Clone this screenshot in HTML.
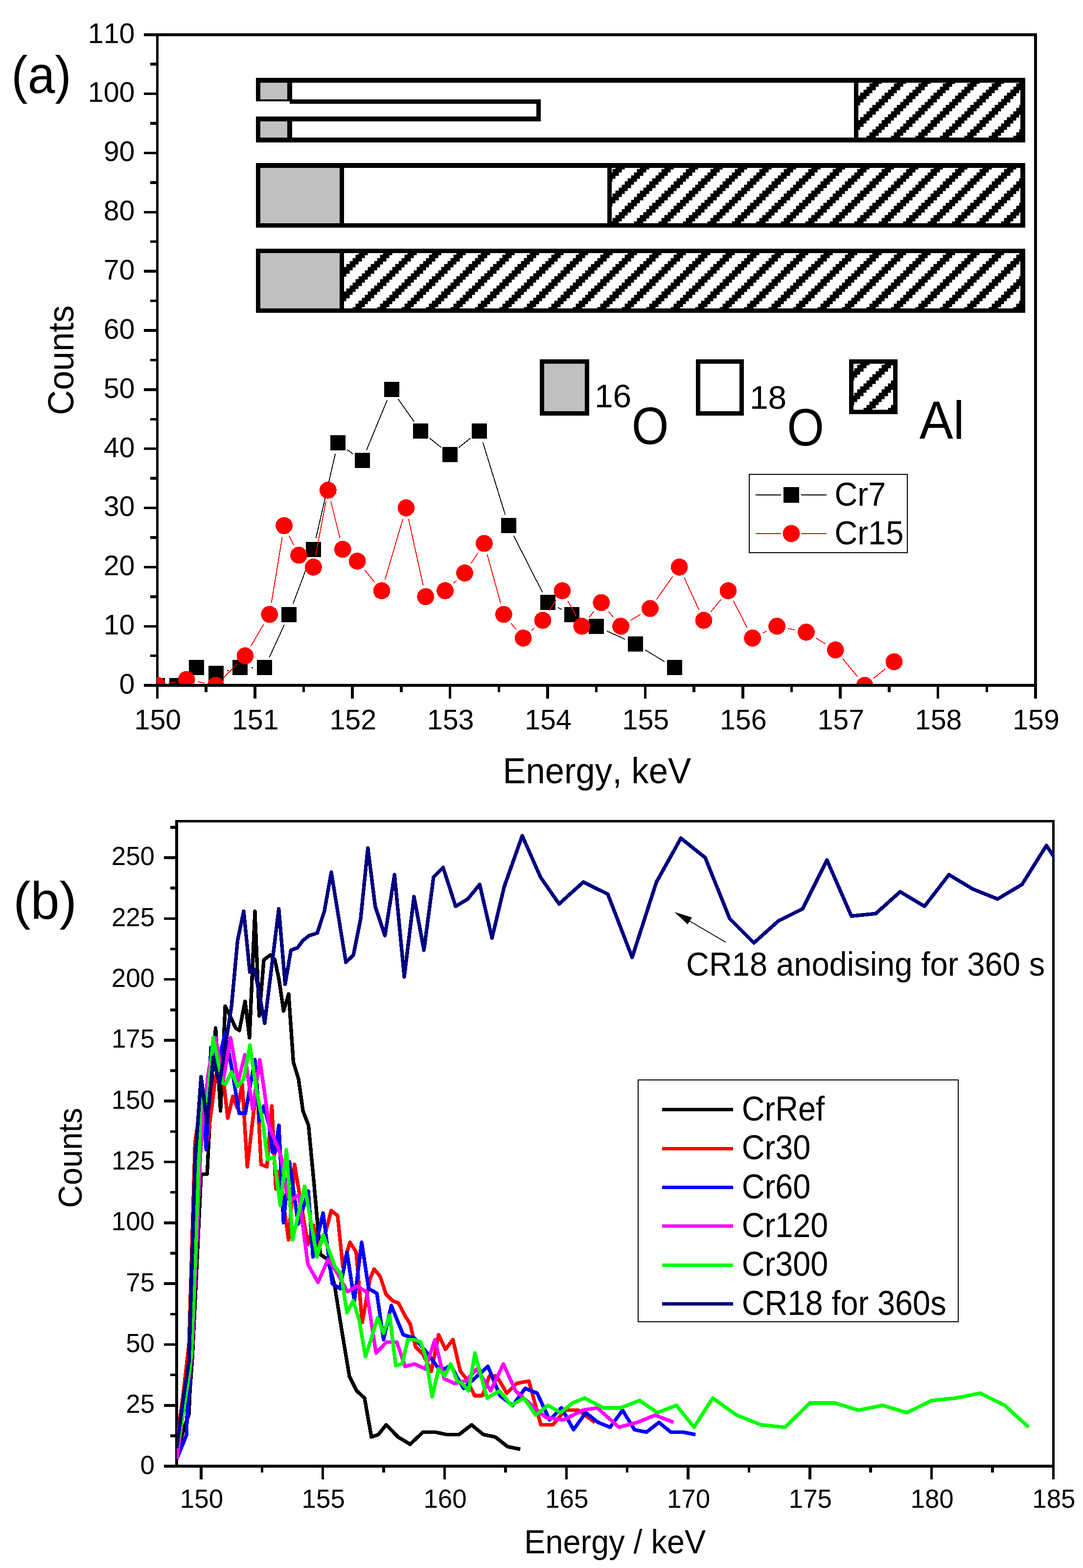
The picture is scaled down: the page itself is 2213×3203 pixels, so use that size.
<!DOCTYPE html>
<html lang="en">
<head>
<meta charset="utf-8">
<title>Energy spectra: counts vs energy (keV)</title>
<style>
html,body{margin:0;padding:0;background:#fff;}
body{width:2213px;height:3203px;overflow:hidden;}
svg{display:block;}
text{font-family:"Liberation Sans", Arial, sans-serif;white-space:pre;font-kerning:none;font-variant-ligatures:none;}
</style>
</head>
<body>
<svg width="2213" height="3203" viewBox="0 0 2213 3203" font-family='"Liberation Sans", Arial, sans-serif' fill="#000">
<defs>
<pattern id="hatch" patternUnits="userSpaceOnUse" x="1.57" y="2.3" width="50.0" height="50.0">
<rect x="0" y="0" width="50.0" height="50.0" fill="#fff"/>
<rect x="0.00" y="-0.30" width="12.50" height="6.85" fill="#000" shape-rendering="crispEdges"/>
<rect x="43.75" y="-0.30" width="6.25" height="6.85" fill="#000" shape-rendering="crispEdges"/>
<rect x="0.00" y="5.95" width="6.25" height="6.85" fill="#000" shape-rendering="crispEdges"/>
<rect x="37.50" y="5.95" width="12.50" height="6.85" fill="#000" shape-rendering="crispEdges"/>
<rect x="31.25" y="12.20" width="18.75" height="6.85" fill="#000" shape-rendering="crispEdges"/>
<rect x="25.00" y="18.45" width="18.75" height="6.85" fill="#000" shape-rendering="crispEdges"/>
<rect x="18.75" y="24.70" width="18.75" height="6.85" fill="#000" shape-rendering="crispEdges"/>
<rect x="12.50" y="30.95" width="18.75" height="6.85" fill="#000" shape-rendering="crispEdges"/>
<rect x="6.25" y="37.20" width="18.75" height="6.85" fill="#000" shape-rendering="crispEdges"/>
<rect x="0.00" y="43.45" width="18.75" height="6.85" fill="#000" shape-rendering="crispEdges"/>
</pattern>
<clipPath id="clipA"><rect x="320.20" y="70.75" width="1795.80" height="1327.85"/></clipPath>
<clipPath id="clipB"><rect x="361.00" y="1677.60" width="1794.10" height="1317.50"/></clipPath>
</defs>
<rect width="2213" height="3203" fill="#fff"/>
<g id="chartA" shape-rendering="crispEdges">
<line x1="321.40" y1="68.00" x2="321.40" y2="1426.80" stroke="#000" stroke-width="5.5" />
<line x1="293.70" y1="70.75" x2="2118.75" y2="70.75" stroke="#000" stroke-width="5.5" />
<line x1="2116.00" y1="68.00" x2="2116.00" y2="1426.80" stroke="#000" stroke-width="5.5" />
<line x1="293.70" y1="1400.10" x2="321.40" y2="1400.10" stroke="#000" stroke-width="5.5" />
<line x1="307.00" y1="1339.67" x2="321.40" y2="1339.67" stroke="#000" stroke-width="5.5" />
<line x1="293.70" y1="1279.25" x2="321.40" y2="1279.25" stroke="#000" stroke-width="5.5" />
<line x1="307.00" y1="1218.82" x2="321.40" y2="1218.82" stroke="#000" stroke-width="5.5" />
<line x1="293.70" y1="1158.40" x2="321.40" y2="1158.40" stroke="#000" stroke-width="5.5" />
<line x1="307.00" y1="1097.97" x2="321.40" y2="1097.97" stroke="#000" stroke-width="5.5" />
<line x1="293.70" y1="1037.55" x2="321.40" y2="1037.55" stroke="#000" stroke-width="5.5" />
<line x1="307.00" y1="977.12" x2="321.40" y2="977.12" stroke="#000" stroke-width="5.5" />
<line x1="293.70" y1="916.70" x2="321.40" y2="916.70" stroke="#000" stroke-width="5.5" />
<line x1="307.00" y1="856.27" x2="321.40" y2="856.27" stroke="#000" stroke-width="5.5" />
<line x1="293.70" y1="795.85" x2="321.40" y2="795.85" stroke="#000" stroke-width="5.5" />
<line x1="307.00" y1="735.42" x2="321.40" y2="735.42" stroke="#000" stroke-width="5.5" />
<line x1="293.70" y1="675.00" x2="321.40" y2="675.00" stroke="#000" stroke-width="5.5" />
<line x1="307.00" y1="614.57" x2="321.40" y2="614.57" stroke="#000" stroke-width="5.5" />
<line x1="293.70" y1="554.15" x2="321.40" y2="554.15" stroke="#000" stroke-width="5.5" />
<line x1="307.00" y1="493.72" x2="321.40" y2="493.72" stroke="#000" stroke-width="5.5" />
<line x1="293.70" y1="433.30" x2="321.40" y2="433.30" stroke="#000" stroke-width="5.5" />
<line x1="307.00" y1="372.88" x2="321.40" y2="372.88" stroke="#000" stroke-width="5.5" />
<line x1="293.70" y1="312.45" x2="321.40" y2="312.45" stroke="#000" stroke-width="5.5" />
<line x1="307.00" y1="252.03" x2="321.40" y2="252.03" stroke="#000" stroke-width="5.5" />
<line x1="293.70" y1="191.60" x2="321.40" y2="191.60" stroke="#000" stroke-width="5.5" />
<line x1="307.00" y1="131.17" x2="321.40" y2="131.17" stroke="#000" stroke-width="5.5" />
<line x1="293.70" y1="70.75" x2="321.40" y2="70.75" stroke="#000" stroke-width="5.5" />
</g>
<g id="bars" shape-rendering="crispEdges">
<rect x="523.10" y="158.80" width="1571.90" height="132.10" fill="#000" stroke="none" stroke-width="0" />
<rect x="597.00" y="168.80" width="1148.10" height="112.20" fill="#fff" stroke="none" stroke-width="0" />
<rect x="1754.10" y="168.80" width="330.70" height="112.20" fill="url(#hatch)" stroke="none" stroke-width="0" />
<rect x="532.00" y="168.80" width="55.20" height="33.90" fill="#c0c0c0" stroke="none" stroke-width="0" />
<rect x="532.00" y="247.80" width="55.20" height="33.20" fill="#c0c0c0" stroke="none" stroke-width="0" />
<rect x="523.10" y="202.70" width="582.00" height="45.30" fill="#000" stroke="none" stroke-width="0" />
<rect x="500.00" y="206.90" width="92.00" height="31.20" fill="#fff" stroke="none" stroke-width="0" />
<rect x="592.00" y="211.80" width="504.10" height="26.30" fill="#fff" stroke="none" stroke-width="0" />
<rect x="523.10" y="333.20" width="1571.90" height="131.90" fill="#000" stroke="none" stroke-width="0" />
<rect x="532.00" y="342.90" width="161.80" height="113.40" fill="#c0c0c0" stroke="none" stroke-width="0" />
<rect x="703.00" y="342.90" width="538.20" height="113.40" fill="#fff" stroke="none" stroke-width="0" />
<rect x="1250.00" y="342.90" width="834.80" height="113.40" fill="url(#hatch)" stroke="none" stroke-width="0" />
<rect x="523.10" y="508.10" width="1571.90" height="130.60" fill="#000" stroke="none" stroke-width="0" />
<rect x="532.00" y="516.90" width="161.80" height="113.00" fill="#c0c0c0" stroke="none" stroke-width="0" />
<rect x="703.00" y="516.90" width="1381.80" height="113.00" fill="url(#hatch)" stroke="none" stroke-width="0" />
</g>
<g id="dataA" clip-path="url(#clipA)" shape-rendering="crispEdges">
<path d="M378.5 1384.4L383.9 1379.5M463.7 1370.4L468.2 1369.3M514.2 1363.8L517.4 1363.8M550.4 1342.7L580.9 1276.3M598.8 1233.3L632.3 1144.0M645.6 1099.4L685.1 927.3M709.1 918.3L721.3 927.2M749.0 919.3L791.1 817.4M813.4 814.9L846.3 861.4M877.9 895.1L901.5 914.1M937.7 914.1L961.3 895.1M986.3 902.7L1032.4 1051.5M1049.8 1094.6L1108.5 1210.1M1140.0 1241.1L1147.9 1244.9M1189.8 1265.2L1197.7 1269.1M1239.9 1288.9L1277.2 1305.9M1318.4 1327.6L1358.3 1351.8" stroke="#000" stroke-width="1.8" fill="none"/>
<rect x="305.9" y="1384.6" width="31.0" height="31.0" fill="#000" shape-rendering="crispEdges"/>
<rect x="345.8" y="1384.6" width="31.0" height="31.0" fill="#000" shape-rendering="crispEdges"/>
<rect x="385.7" y="1348.3" width="31.0" height="31.0" fill="#000" shape-rendering="crispEdges"/>
<rect x="425.5" y="1360.4" width="31.0" height="31.0" fill="#000" shape-rendering="crispEdges"/>
<rect x="475.4" y="1348.3" width="31.0" height="31.0" fill="#000" shape-rendering="crispEdges"/>
<rect x="525.2" y="1348.3" width="31.0" height="31.0" fill="#000" shape-rendering="crispEdges"/>
<rect x="575.1" y="1239.6" width="31.0" height="31.0" fill="#000" shape-rendering="crispEdges"/>
<rect x="624.9" y="1106.6" width="31.0" height="31.0" fill="#000" shape-rendering="crispEdges"/>
<rect x="674.8" y="889.1" width="31.0" height="31.0" fill="#000" shape-rendering="crispEdges"/>
<rect x="724.6" y="925.4" width="31.0" height="31.0" fill="#000" shape-rendering="crispEdges"/>
<rect x="784.5" y="780.3" width="31.0" height="31.0" fill="#000" shape-rendering="crispEdges"/>
<rect x="844.3" y="864.9" width="31.0" height="31.0" fill="#000" shape-rendering="crispEdges"/>
<rect x="904.1" y="913.3" width="31.0" height="31.0" fill="#000" shape-rendering="crispEdges"/>
<rect x="963.9" y="864.9" width="31.0" height="31.0" fill="#000" shape-rendering="crispEdges"/>
<rect x="1023.7" y="1058.3" width="31.0" height="31.0" fill="#000" shape-rendering="crispEdges"/>
<rect x="1103.5" y="1215.4" width="31.0" height="31.0" fill="#000" shape-rendering="crispEdges"/>
<rect x="1153.3" y="1239.6" width="31.0" height="31.0" fill="#000" shape-rendering="crispEdges"/>
<rect x="1203.2" y="1263.8" width="31.0" height="31.0" fill="#000" shape-rendering="crispEdges"/>
<rect x="1283.0" y="1300.0" width="31.0" height="31.0" fill="#000" shape-rendering="crispEdges"/>
<rect x="1362.7" y="1348.3" width="31.0" height="31.0" fill="#000" shape-rendering="crispEdges"/>
<path d="M344.2 1395.5L358.4 1392.6M404.1 1392.6L418.2 1395.5M457.4 1383.5L484.5 1356.2M512.7 1319.6L538.9 1275.2M554.5 1232.1L576.8 1096.8M591.0 1094.7L600.2 1113.3M644.8 1135.5L666.0 1024.2M675.9 1023.9L694.7 1099.5M745.0 1164.3L765.2 1188.8M786.6 1184.4L823.3 1059.9M834.9 1060.3L864.7 1196.1M926.9 1191.1L932.3 1186.2M962.3 1151.0L976.6 1129.5M995.6 1132.5L1023.1 1232.6M1044.1 1273.1L1054.3 1285.4M1086.4 1287.7L1091.8 1282.8M1121.9 1247.7L1136.1 1226.2M1160.1 1227.2L1177.6 1258.8M1203.6 1261.3L1213.8 1248.9M1243.5 1248.9L1253.7 1261.3M1288.5 1267.2L1308.4 1255.1M1341.8 1224.0L1374.7 1177.4M1397.9 1179.6L1428.3 1246.0M1452.9 1249.2L1473.1 1224.7M1498.6 1227.4L1527.1 1282.7M1558.7 1293.3L1566.6 1289.4M1610.4 1283.9L1624.6 1286.7M1667.3 1303.4L1687.3 1315.5M1722.1 1345.6L1752.2 1382.1M1785.2 1385.5L1808.7 1366.4" stroke="#f00" stroke-width="1.8" fill="none"/>
<circle cx="321.4" cy="1400.1" r="17.4" fill="#f00"/>
<circle cx="381.2" cy="1388.0" r="17.4" fill="#f00"/>
<circle cx="441.0" cy="1400.1" r="17.4" fill="#f00"/>
<circle cx="500.9" cy="1339.7" r="17.4" fill="#f00"/>
<circle cx="550.7" cy="1255.1" r="17.4" fill="#f00"/>
<circle cx="580.6" cy="1073.8" r="17.4" fill="#f00"/>
<circle cx="610.5" cy="1134.2" r="17.4" fill="#f00"/>
<circle cx="640.4" cy="1158.4" r="17.4" fill="#f00"/>
<circle cx="670.3" cy="1001.3" r="17.4" fill="#f00"/>
<circle cx="700.3" cy="1122.1" r="17.4" fill="#f00"/>
<circle cx="730.2" cy="1146.3" r="17.4" fill="#f00"/>
<circle cx="780.0" cy="1206.7" r="17.4" fill="#f00"/>
<circle cx="829.9" cy="1037.5" r="17.4" fill="#f00"/>
<circle cx="869.7" cy="1218.8" r="17.4" fill="#f00"/>
<circle cx="909.6" cy="1206.7" r="17.4" fill="#f00"/>
<circle cx="949.5" cy="1170.5" r="17.4" fill="#f00"/>
<circle cx="989.4" cy="1110.1" r="17.4" fill="#f00"/>
<circle cx="1029.3" cy="1255.1" r="17.4" fill="#f00"/>
<circle cx="1069.2" cy="1303.4" r="17.4" fill="#f00"/>
<circle cx="1109.0" cy="1267.2" r="17.4" fill="#f00"/>
<circle cx="1148.9" cy="1206.7" r="17.4" fill="#f00"/>
<circle cx="1188.8" cy="1279.2" r="17.4" fill="#f00"/>
<circle cx="1228.7" cy="1230.9" r="17.4" fill="#f00"/>
<circle cx="1268.6" cy="1279.2" r="17.4" fill="#f00"/>
<circle cx="1328.4" cy="1243.0" r="17.4" fill="#f00"/>
<circle cx="1388.2" cy="1158.4" r="17.4" fill="#f00"/>
<circle cx="1438.0" cy="1267.2" r="17.4" fill="#f00"/>
<circle cx="1487.9" cy="1206.7" r="17.4" fill="#f00"/>
<circle cx="1537.7" cy="1303.4" r="17.4" fill="#f00"/>
<circle cx="1587.6" cy="1279.2" r="17.4" fill="#f00"/>
<circle cx="1647.4" cy="1291.3" r="17.4" fill="#f00"/>
<circle cx="1707.2" cy="1327.6" r="17.4" fill="#f00"/>
<circle cx="1767.0" cy="1400.1" r="17.4" fill="#f00"/>
<circle cx="1826.9" cy="1351.8" r="17.4" fill="#f00"/>
</g>
<g id="axA2" shape-rendering="crispEdges">
<line x1="293.70" y1="1400.10" x2="2118.75" y2="1400.10" stroke="#000" stroke-width="5.5" />
<line x1="321.40" y1="1400.10" x2="321.40" y2="1426.80" stroke="#000" stroke-width="5.5" />
<line x1="421.10" y1="1400.10" x2="421.10" y2="1413.80" stroke="#000" stroke-width="5.5" />
<line x1="520.80" y1="1400.10" x2="520.80" y2="1426.80" stroke="#000" stroke-width="5.5" />
<line x1="620.50" y1="1400.10" x2="620.50" y2="1413.80" stroke="#000" stroke-width="5.5" />
<line x1="720.20" y1="1400.10" x2="720.20" y2="1426.80" stroke="#000" stroke-width="5.5" />
<line x1="819.90" y1="1400.10" x2="819.90" y2="1413.80" stroke="#000" stroke-width="5.5" />
<line x1="919.60" y1="1400.10" x2="919.60" y2="1426.80" stroke="#000" stroke-width="5.5" />
<line x1="1019.30" y1="1400.10" x2="1019.30" y2="1413.80" stroke="#000" stroke-width="5.5" />
<line x1="1119.00" y1="1400.10" x2="1119.00" y2="1426.80" stroke="#000" stroke-width="5.5" />
<line x1="1218.70" y1="1400.10" x2="1218.70" y2="1413.80" stroke="#000" stroke-width="5.5" />
<line x1="1318.40" y1="1400.10" x2="1318.40" y2="1426.80" stroke="#000" stroke-width="5.5" />
<line x1="1418.10" y1="1400.10" x2="1418.10" y2="1413.80" stroke="#000" stroke-width="5.5" />
<line x1="1517.80" y1="1400.10" x2="1517.80" y2="1426.80" stroke="#000" stroke-width="5.5" />
<line x1="1617.50" y1="1400.10" x2="1617.50" y2="1413.80" stroke="#000" stroke-width="5.5" />
<line x1="1717.20" y1="1400.10" x2="1717.20" y2="1426.80" stroke="#000" stroke-width="5.5" />
<line x1="1816.90" y1="1400.10" x2="1816.90" y2="1413.80" stroke="#000" stroke-width="5.5" />
<line x1="1916.60" y1="1400.10" x2="1916.60" y2="1426.80" stroke="#000" stroke-width="5.5" />
<line x1="2016.30" y1="1400.10" x2="2016.30" y2="1413.80" stroke="#000" stroke-width="5.5" />
<line x1="2116.00" y1="1400.10" x2="2116.00" y2="1426.80" stroke="#000" stroke-width="5.5" />
</g>
<g id="labelsA">
<text transform="translate(243.55 1416.90)" font-size="57.3" >0</text>
<text transform="translate(211.68 1296.05)" font-size="57.3" >10</text>
<text transform="translate(211.68 1175.20)" font-size="57.3" >20</text>
<text transform="translate(211.68 1054.35)" font-size="57.3" >30</text>
<text transform="translate(211.68 933.50)" font-size="57.3" >40</text>
<text transform="translate(211.68 812.65)" font-size="57.3" >50</text>
<text transform="translate(211.68 691.80)" font-size="57.3" >60</text>
<text transform="translate(211.68 570.95)" font-size="57.3" >70</text>
<text transform="translate(211.68 450.10)" font-size="57.3" >80</text>
<text transform="translate(211.68 329.25)" font-size="57.3" >90</text>
<text transform="translate(179.81 208.40)" font-size="57.3" >100</text>
<text transform="translate(179.81 87.55)" font-size="57.3" >110</text>
<text transform="translate(274.60 1489.60)" font-size="57.3" >150</text>
<text transform="translate(474.00 1489.60)" font-size="57.3" >151</text>
<text transform="translate(673.40 1489.60)" font-size="57.3" >152</text>
<text transform="translate(872.80 1489.60)" font-size="57.3" >153</text>
<text transform="translate(1072.20 1489.60)" font-size="57.3" >154</text>
<text transform="translate(1271.60 1489.60)" font-size="57.3" >155</text>
<text transform="translate(1471.00 1489.60)" font-size="57.3" >156</text>
<text transform="translate(1670.40 1489.60)" font-size="57.3" >157</text>
<text transform="translate(1869.80 1489.60)" font-size="57.3" >158</text>
<text transform="translate(2069.20 1489.60)" font-size="57.3" >159</text>
<text transform="translate(1027.45 1600.30) scale(1 1.0524)" font-size="70.6" >Energy, keV</text>
<text transform="translate(150.00 847.90) rotate(-90) scale(1 1.0579)" font-size="70.8" >Counts</text>
</g>
<g id="legendA">
<rect x="1530.90" y="968.90" width="323.20" height="160.00" fill="#fff" stroke="#000" stroke-width="1.6" shape-rendering="crispEdges"/>
<path d="M1543.9 1010.9L1596.2 1010.9M1637.2 1010.9L1689.2 1010.9" stroke="#000" stroke-width="1.8" fill="none" shape-rendering="crispEdges"/>
<rect x="1601.0" y="994.9" width="32" height="32" fill="#000" shape-rendering="crispEdges"/>
<text transform="translate(1705.24 1032.70) scale(1 1.0460)" font-size="65.2" >Cr7</text>
<path d="M1543.9 1089.9L1596.2 1089.9M1637.2 1089.9L1689.2 1089.9" stroke="#f00" stroke-width="1.8" fill="none" shape-rendering="crispEdges"/>
<circle cx="1617.0" cy="1089.9" r="17.4" fill="#f00"/>
<text transform="translate(1705.24 1111.70) scale(1 1.0460)" font-size="65.2" >Cr15</text>
</g>
<g id="panel">
<text transform="translate(23.34 190.40) scale(1 1.0789)" font-size="100.1" >(a)</text>
<text transform="translate(27.17 1876.50) scale(1 1.0075)" font-size="106.1" >(b)</text>
</g>
<g id="iso">
<g shape-rendering="crispEdges">
<rect x="1103.20" y="733.80" width="100.90" height="114.70" fill="#000" stroke="none" stroke-width="0" />
<rect x="1112.00" y="742.60" width="83.30" height="97.10" fill="#c0c0c0" stroke="none" stroke-width="0" />
<rect x="1422.10" y="733.80" width="97.90" height="114.70" fill="#000" stroke="none" stroke-width="0" />
<rect x="1430.90" y="742.60" width="80.30" height="97.10" fill="#fff" stroke="none" stroke-width="0" />
<rect x="1735.00" y="733.80" width="99.00" height="112.20" fill="#000" stroke="none" stroke-width="0" />
<rect x="1743.80" y="742.60" width="81.40" height="94.60" fill="url(#hatch)" stroke="none" stroke-width="0" />
</g>
<text transform="translate(1214.91 831.60) scale(1 0.9926)" font-size="67.8" >16</text>
<text transform="translate(1290.87 907.00) scale(1 1.0996)" font-size="97.4" >O</text>
<text transform="translate(1531.91 834.70) scale(1 0.9926)" font-size="67.8" >18</text>
<text transform="translate(1608.17 910.00) scale(1 1.0996)" font-size="97.4" >O</text>
<text transform="translate(1878.74 896.00) scale(1 1.0609)" font-size="103.4" >Al</text>
</g>
<g id="chartB" shape-rendering="crispEdges">
<line x1="361.20" y1="1674.85" x2="361.20" y2="2997.85" stroke="#000" stroke-width="5.5" />
<line x1="358.45" y1="1677.60" x2="2155.15" y2="1677.60" stroke="#000" stroke-width="5.5" />
<line x1="2152.40" y1="1674.85" x2="2152.40" y2="3022.10" stroke="#000" stroke-width="5.5" />
<line x1="335.20" y1="2995.10" x2="361.20" y2="2995.10" stroke="#000" stroke-width="5.5" />
<line x1="347.90" y1="2932.94" x2="361.20" y2="2932.94" stroke="#000" stroke-width="5.5" />
<line x1="335.20" y1="2870.79" x2="361.20" y2="2870.79" stroke="#000" stroke-width="5.5" />
<line x1="347.90" y1="2808.63" x2="361.20" y2="2808.63" stroke="#000" stroke-width="5.5" />
<line x1="335.20" y1="2746.47" x2="361.20" y2="2746.47" stroke="#000" stroke-width="5.5" />
<line x1="347.90" y1="2684.32" x2="361.20" y2="2684.32" stroke="#000" stroke-width="5.5" />
<line x1="335.20" y1="2622.16" x2="361.20" y2="2622.16" stroke="#000" stroke-width="5.5" />
<line x1="347.90" y1="2560.01" x2="361.20" y2="2560.01" stroke="#000" stroke-width="5.5" />
<line x1="335.20" y1="2497.85" x2="361.20" y2="2497.85" stroke="#000" stroke-width="5.5" />
<line x1="347.90" y1="2435.69" x2="361.20" y2="2435.69" stroke="#000" stroke-width="5.5" />
<line x1="335.20" y1="2373.54" x2="361.20" y2="2373.54" stroke="#000" stroke-width="5.5" />
<line x1="347.90" y1="2311.38" x2="361.20" y2="2311.38" stroke="#000" stroke-width="5.5" />
<line x1="335.20" y1="2249.22" x2="361.20" y2="2249.22" stroke="#000" stroke-width="5.5" />
<line x1="347.90" y1="2187.07" x2="361.20" y2="2187.07" stroke="#000" stroke-width="5.5" />
<line x1="335.20" y1="2124.91" x2="361.20" y2="2124.91" stroke="#000" stroke-width="5.5" />
<line x1="347.90" y1="2062.76" x2="361.20" y2="2062.76" stroke="#000" stroke-width="5.5" />
<line x1="335.20" y1="2000.60" x2="361.20" y2="2000.60" stroke="#000" stroke-width="5.5" />
<line x1="347.90" y1="1938.44" x2="361.20" y2="1938.44" stroke="#000" stroke-width="5.5" />
<line x1="335.20" y1="1876.29" x2="361.20" y2="1876.29" stroke="#000" stroke-width="5.5" />
<line x1="347.90" y1="1814.13" x2="361.20" y2="1814.13" stroke="#000" stroke-width="5.5" />
<line x1="335.20" y1="1751.97" x2="361.20" y2="1751.97" stroke="#000" stroke-width="5.5" />
<line x1="347.90" y1="1689.82" x2="361.20" y2="1689.82" stroke="#000" stroke-width="5.5" />
</g>
<g id="dataB" clip-path="url(#clipB)" shape-rendering="crispEdges" fill="none" stroke-width="7.4" stroke-linejoin="round" stroke-linecap="butt">
<path d="M361.2 2970.2L374.6 2923.0L386.1 2888.2L388.0 2841.0L393.1 2772.8L398.5 2661.9L411.1 2398.4L423.3 2398.4L433.0 2199.5L440.6 2100.0L450.6 2269.1L460.2 2055.3L472.5 2080.2L481.5 2100.0L489.0 2105.0L500.9 2045.4L509.8 2119.9L520.9 1861.4L529.7 2075.2L539.1 1960.8L552.3 1950.9L561.7 1960.8L570.1 2000.6L579.5 2065.2L589.8 2030.4L599.5 2169.7L610.1 2204.5L619.1 2269.1L630.4 2298.9L641.7 2418.3L654.5 2562.5L669.5 2572.4L684.0 2627.1L699.0 2721.6L713.9 2811.1L728.9 2841.0L744.9 2855.9L759.0 2935.4L773.1 2930.5L789.1 2910.6L813.5 2935.4L838.0 2950.3L864.3 2925.5L889.7 2925.5L913.2 2930.5L937.9 2930.5L963.6 2910.6L987.7 2930.5L1012.1 2935.4L1037.5 2955.3L1063.2 2960.3" stroke="#000"/>
<path d="M361.2 2947.9L373.6 2853.4L386.1 2746.5L398.5 2333.8L411.0 2249.2L424.0 2328.8L441.0 2197.0L457.0 2209.4L465.4 2284.0L475.9 2239.3L485.3 2264.1L495.0 2214.4L505.3 2383.5L525.0 2214.4L533.4 2378.5L545.4 2383.5L555.5 2259.2L563.5 2428.2L570.0 2393.4L589.7 2532.7L601.9 2378.5L629.1 2542.6L640.4 2502.8L652.0 2547.6L664.0 2522.7L676.7 2473.0L689.8 2482.9L700.6 2587.4L715.0 2537.6L727.8 2557.5L740.2 2701.7L756.0 2612.2L764.5 2592.3L776.7 2607.2L788.9 2644.0L802.0 2657.0L814.3 2661.9L828.4 2689.3L838.0 2704.2L849.2 2751.4L864.3 2766.4L881.2 2801.2L896.2 2726.6L910.3 2756.4L925.5 2736.5L940.7 2801.2L952.9 2816.1L969.8 2850.9L985.8 2850.9L999.9 2811.1L1014.9 2811.1L1035.6 2845.9L1055.3 2826.0L1080.7 2821.1L1105.2 2910.6L1129.6 2910.6L1155.0 2880.7L1181.3 2880.7L1215.7 2905.6" stroke="#f00"/>
<path d="M361.2 2980.2L381.5 2930.5L382.0 2895.7L385.7 2841.0L390.0 2786.3L396.0 2597.3L404.0 2298.9L411.0 2199.5L421.4 2348.7L431.0 2139.8L445.0 2174.6L460.2 2110.0L474.0 2184.6L488.7 2274.1L501.3 2274.1L520.8 2164.7L530.4 2289.0L539.4 2259.2L550.0 2299.9L557.0 2353.6L562.0 2353.6L569.9 2298.9L579.3 2497.8L591.5 2373.5L609.4 2500.3L630.1 2433.2L639.5 2567.5L660.2 2478.0L679.0 2622.2L694.9 2632.1L709.0 2557.5L724.0 2657.0L739.1 2537.6L753.2 2632.1L770.1 2642.1L783.8 2736.5L799.6 2666.9L823.9 2726.6L847.4 2734.0L871.0 2761.4L895.0 2793.7L909.4 2796.2L921.0 2788.7L933.0 2811.1L947.3 2836.0L972.0 2813.6L997.1 2791.2L1021.5 2850.9L1047.8 2870.8L1073.2 2836.0L1097.6 2845.9L1123.0 2900.6L1147.4 2875.8L1171.9 2920.5L1196.9 2885.7L1222.3 2905.6L1246.7 2915.5L1272.1 2880.7L1296.5 2920.5L1321.0 2925.5L1346.4 2905.6L1370.8 2925.5L1396.2 2925.5L1421.2 2930.5" stroke="#00f"/>
<path d="M361.2 2980.2L373.6 2890.7L387.0 2806.1L392.0 2766.4L397.5 2637.1L409.5 2358.6L416.5 2264.1L422.3 2224.4L424.4 2199.5L429.6 2169.7L440.6 2119.9L456.0 2207.0L471.2 2119.9L486.7 2209.4L500.3 2154.7L516.3 2266.6L530.9 2164.7L540.2 2229.3L549.9 2300.9L564.2 2335.2L574.0 2361.1L585.0 2433.2L592.5 2453.1L610.5 2440.7L629.1 2582.4L649.8 2619.7L670.5 2572.4L690.2 2602.3L710.0 2638.6L729.7 2627.1L749.4 2639.6L768.4 2763.9L790.0 2741.5L810.7 2741.5L827.6 2791.2L847.4 2786.3L869.0 2796.2L888.7 2736.5L907.5 2816.1L928.5 2826.0L952.0 2821.1L974.5 2796.2L1002.7 2841.0L1028.5 2786.3L1053.5 2841.0L1084.0 2868.3L1115.5 2895.7L1151.2 2900.6L1190.7 2880.7L1220.4 2875.8L1264.6 2915.5L1302.2 2905.6L1338.8 2890.7L1376.4 2905.6" stroke="#f0f"/>
<path d="M361.2 2957.8L373.6 2890.7L386.1 2806.1L391.0 2766.4L396.0 2637.1L411.0 2239.3L423.4 2254.2L435.8 2119.9L454.2 2211.9L460.7 2214.4L473.1 2189.6L485.6 2219.4L498.0 2204.5L510.8 2134.9L523.6 2224.4L536.4 2289.0L546.9 2368.6L559.7 2363.6L572.7 2462.0L585.3 2348.7L597.7 2532.7L622.6 2423.3L647.6 2567.5L660.2 2522.7L684.6 2587.4L696.8 2602.3L709.0 2681.8L721.8 2657.0L734.0 2696.8L746.8 2771.3L771.8 2691.8L783.8 2723.6L796.2 2686.8L808.8 2789.7L822.0 2785.3L833.3 2736.5L846.4 2736.5L859.6 2741.5L870.0 2771.3L883.1 2853.4L896.2 2796.2L908.5 2811.1L920.9 2786.3L934.0 2821.1L944.4 2826.0L957.6 2841.0L970.4 2763.9L995.2 2855.9L1020.6 2841.0L1045.0 2870.8L1070.4 2855.9L1094.8 2890.7L1119.6 2870.8L1145.6 2885.7L1170.0 2865.8L1194.6 2855.9L1232.6 2875.8L1268.3 2875.8L1306.9 2860.8L1343.5 2885.7L1382.1 2870.8L1418.3 2915.5L1456.3 2855.9L1505.2 2890.7L1555.3 2910.6L1604.2 2915.5L1655.0 2865.8L1705.7 2865.8L1753.8 2880.7L1803.9 2870.8L1853.1 2885.7L1904.0 2860.8L1952.9 2855.9L2002.5 2845.9L2053.1 2870.8L2102.0 2915.5" stroke="#0f0"/>
<path d="M361.2 2957.8L373.6 2863.3L386.1 2781.3L398.5 2373.5L410.9 2199.5L423.3 2294.0L435.8 2159.7L448.3 2214.4L460.7 2134.9L473.1 2055.3L485.5 1921.0L498.0 1861.4L510.5 1985.7L520.6 1980.7L540.9 2090.1L569.7 1856.4L582.7 2010.5L594.5 1940.9L607.9 1936.0L619.2 1921.0L632.0 1911.1L648.2 1906.1L662.8 1861.4L677.0 1781.8L706.8 1965.8L722.1 1950.9L737.0 1876.3L751.7 1732.1L766.7 1851.4L786.6 1911.1L806.2 1786.8L826.1 1995.6L846.0 1831.5L866.3 1940.9L885.9 1791.8L905.4 1771.9L931.0 1851.4L955.8 1836.5L980.2 1806.7L1005.4 1916.1L1030.2 1811.6L1067.1 1707.2L1104.5 1791.8L1142.4 1846.5L1192.1 1801.7L1242.0 1826.6L1291.7 1955.8L1341.4 1801.7L1391.3 1712.2L1441.0 1752.0L1491.0 1876.3L1540.6 1926.0L1590.5 1881.3L1640.2 1856.4L1689.8 1756.9L1739.7 1871.3L1789.5 1866.3L1839.3 1821.6L1889.2 1851.4L1939.0 1786.8L1988.8 1816.6L2038.6 1836.5L2088.4 1806.7L2138.3 1727.1L2188.0 1801.7" stroke="#000080"/>
</g>
<g id="axB2" shape-rendering="crispEdges">
<line x1="335.20" y1="2995.10" x2="2155.15" y2="2995.10" stroke="#000" stroke-width="5.5" />
<line x1="410.96" y1="2995.10" x2="410.96" y2="3022.10" stroke="#000" stroke-width="5.5" />
<line x1="535.34" y1="2995.10" x2="535.34" y2="3008.10" stroke="#000" stroke-width="5.5" />
<line x1="659.73" y1="2995.10" x2="659.73" y2="3022.10" stroke="#000" stroke-width="5.5" />
<line x1="784.12" y1="2995.10" x2="784.12" y2="3008.10" stroke="#000" stroke-width="5.5" />
<line x1="908.51" y1="2995.10" x2="908.51" y2="3022.10" stroke="#000" stroke-width="5.5" />
<line x1="1032.90" y1="2995.10" x2="1032.90" y2="3008.10" stroke="#000" stroke-width="5.5" />
<line x1="1157.29" y1="2995.10" x2="1157.29" y2="3022.10" stroke="#000" stroke-width="5.5" />
<line x1="1281.68" y1="2995.10" x2="1281.68" y2="3008.10" stroke="#000" stroke-width="5.5" />
<line x1="1406.07" y1="2995.10" x2="1406.07" y2="3022.10" stroke="#000" stroke-width="5.5" />
<line x1="1530.46" y1="2995.10" x2="1530.46" y2="3008.10" stroke="#000" stroke-width="5.5" />
<line x1="1654.84" y1="2995.10" x2="1654.84" y2="3022.10" stroke="#000" stroke-width="5.5" />
<line x1="1779.23" y1="2995.10" x2="1779.23" y2="3008.10" stroke="#000" stroke-width="5.5" />
<line x1="1903.62" y1="2995.10" x2="1903.62" y2="3022.10" stroke="#000" stroke-width="5.5" />
<line x1="2028.01" y1="2995.10" x2="2028.01" y2="3008.10" stroke="#000" stroke-width="5.5" />
<line x1="2152.40" y1="2995.10" x2="2152.40" y2="3022.10" stroke="#000" stroke-width="5.5" />
</g>
<g id="labelsB">
<text transform="translate(286.62 3010.50)" font-size="52.9" >0</text>
<text transform="translate(257.34 2886.19)" font-size="52.9" >25</text>
<text transform="translate(257.20 2761.88)" font-size="52.9" >50</text>
<text transform="translate(257.34 2637.56)" font-size="52.9" >75</text>
<text transform="translate(227.78 2513.25)" font-size="52.9" >100</text>
<text transform="translate(227.91 2388.94)" font-size="52.9" >125</text>
<text transform="translate(227.78 2264.62)" font-size="52.9" >150</text>
<text transform="translate(227.91 2140.31)" font-size="52.9" >175</text>
<text transform="translate(227.78 2016.00)" font-size="52.9" >200</text>
<text transform="translate(227.91 1891.69)" font-size="52.9" >225</text>
<text transform="translate(227.78 1767.38)" font-size="52.9" >250</text>
<text transform="translate(367.82 3080.00)" font-size="52.9" >150</text>
<text transform="translate(616.60 3080.00)" font-size="52.9" >155</text>
<text transform="translate(865.38 3080.00)" font-size="52.9" >160</text>
<text transform="translate(1114.16 3080.00)" font-size="52.9" >165</text>
<text transform="translate(1362.93 3080.00)" font-size="52.9" >170</text>
<text transform="translate(1611.71 3080.00)" font-size="52.9" >175</text>
<text transform="translate(1860.49 3080.00)" font-size="52.9" >180</text>
<text transform="translate(2109.27 3080.00)" font-size="52.9" >185</text>
<text transform="translate(1071.32 3172.90) scale(1 1.0525)" font-size="64.8" >Energy / keV</text>
<text transform="translate(166.50 2467.58) rotate(-90) scale(1 1.0495)" font-size="64.6" >Counts</text>
</g>
<g id="annot">
<path d="M1482.9 1924.8L1400 1876" stroke="#000" stroke-width="1.7" fill="none"/>
<path d="M1378.1 1863.1L1413.9 1873.9L1405.2 1888.2Z" fill="#000"/>
<text transform="translate(1401.95 1992.90) scale(1 1.0554)" font-size="65.0" >CR18 anodising for 360 s</text>
</g>
<g id="legendB">
<rect x="1303.70" y="2205.90" width="654.40" height="494.30" fill="#fff" stroke="#000" stroke-width="1.7" shape-rendering="crispEdges"/>
<line x1="1352.80" y1="2266.80" x2="1498.00" y2="2266.80" stroke="#000" stroke-width="7" shape-rendering="crispEdges"/>
<text transform="translate(1515.76 2289.00) scale(1 1.0833)" font-size="64.8" >CrRef</text>
<line x1="1352.80" y1="2346.12" x2="1498.00" y2="2346.12" stroke="#f00" stroke-width="7" shape-rendering="crispEdges"/>
<text transform="translate(1515.76 2368.32) scale(1 1.0833)" font-size="64.8" >Cr30</text>
<line x1="1352.80" y1="2425.44" x2="1498.00" y2="2425.44" stroke="#00f" stroke-width="7" shape-rendering="crispEdges"/>
<text transform="translate(1515.76 2447.64) scale(1 1.0833)" font-size="64.8" >Cr60</text>
<line x1="1352.80" y1="2504.76" x2="1498.00" y2="2504.76" stroke="#f0f" stroke-width="7" shape-rendering="crispEdges"/>
<text transform="translate(1515.76 2526.96) scale(1 1.0833)" font-size="64.8" >Cr120</text>
<line x1="1352.80" y1="2584.08" x2="1498.00" y2="2584.08" stroke="#0f0" stroke-width="7" shape-rendering="crispEdges"/>
<text transform="translate(1515.76 2606.28) scale(1 1.0833)" font-size="64.8" >Cr300</text>
<line x1="1352.80" y1="2663.40" x2="1498.00" y2="2663.40" stroke="#000080" stroke-width="7" shape-rendering="crispEdges"/>
<text transform="translate(1515.76 2685.60) scale(1 1.0833)" font-size="64.8" >CR18 for 360s</text>
</g>
</svg>
</body>
</html>
